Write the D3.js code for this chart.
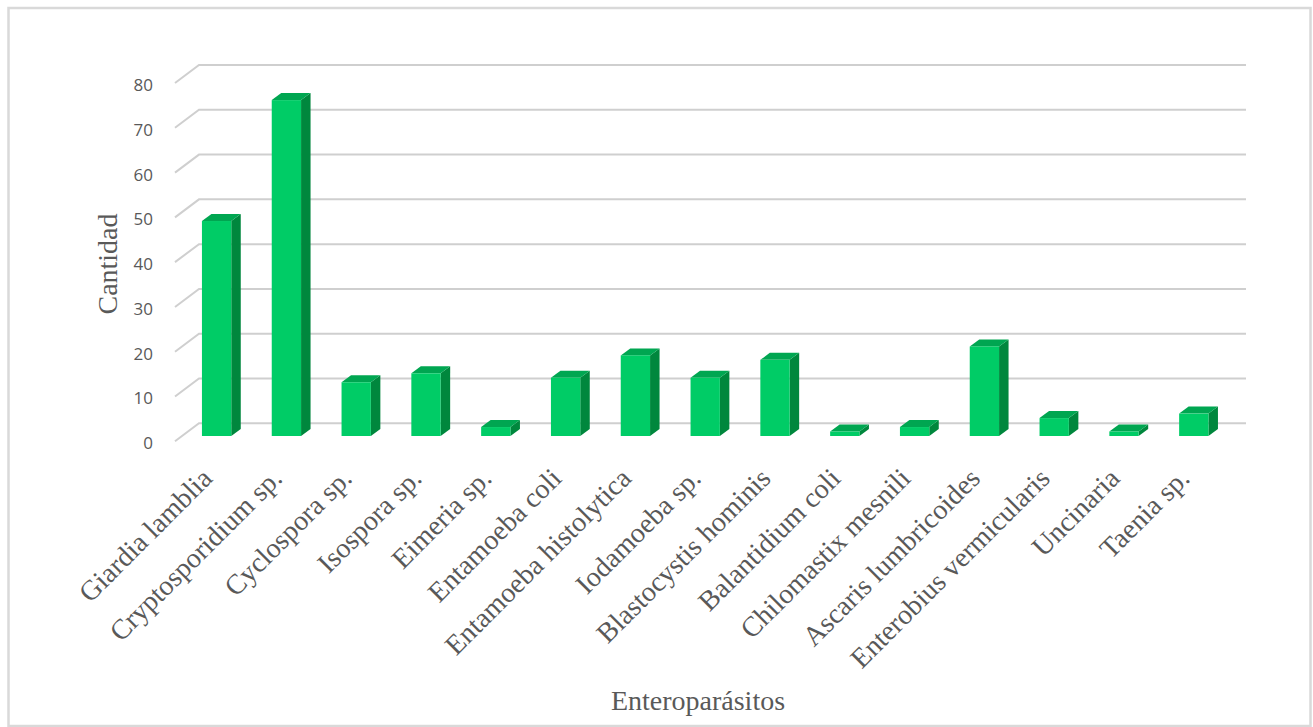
<!DOCTYPE html>
<html>
<head>
<meta charset="utf-8">
<script src="https://cdn.jsdelivr.net/npm/d3@7"></script>
<style>
  body { margin: 0; background: #fff; }
</style>
</head>
<body>
<div id="chart"></div>
<script>
var categories = ["Giardia lamblia", "Cryptosporidium sp.", "Cyclospora sp.", "Isospora sp.", "Eimeria sp.",
  "Entamoeba coli", "Entamoeba histolytica", "Iodamoeba sp.", "Blastocystis hominis", "Balantidium coli",
  "Chilomastix mesnili", "Ascaris lumbricoides", "Enterobius vermicularis", "Uncinaria", "Taenia sp."];
var values = [48, 75, 12, 14, 2, 13, 18, 13, 17, 1, 2, 20, 4, 1, 5];
var yTicks = [0, 10, 20, 30, 40, 50, 60, 70, 80];

var W = 1313, H = 727;
// back wall of the 3D plot
var wall = {left: 199, right: 1246, top: 65, bottom: 423.3};
var depthX = 24, depthY = 18;       // floor depth (back wall -> front edge)
var barOffX = 17.3, barOffY = 12.7; // front face of bars relative to back wall
var barDX = 9.5, barDY = 7;         // bar thickness in depth

var svg = d3.select("#chart")
  .append("svg")
    .attr("width", W)
    .attr("height", H);

// outer frame
svg.append("rect")
  .attr("x", 8.5).attr("y", 8)
  .attr("width", 1302).attr("height", 718)
  .attr("fill", "#fff")
  .attr("stroke", "#d9d9d9")
  .attr("stroke-width", 2.5);

var x = d3.scaleBand()
  .domain(categories)
  .range([wall.left, wall.right])
  .paddingInner(0.58)
  .paddingOuter(0.29);

var y = d3.scaleLinear()
  .domain([0, 80])
  .range([wall.bottom, wall.top]);

// gridlines on back wall + floor diagonals
var grid = svg.append("g");
grid.selectAll("path")
  .data(yTicks)
  .enter()
  .append("path")
    .attr("d", function(d) {
      return "M" + (wall.left - depthX) + "," + (y(d) + depthY) +
             "L" + wall.left + "," + y(d) +
             "L" + wall.right + "," + y(d);
    })
    .attr("fill", "none")
    .attr("stroke", "#cfcfcf")
    .attr("stroke-width", 2);

// y tick labels
svg.append("g").selectAll("text")
  .data(yTicks)
  .enter()
  .append("text")
    .attr("x", 153)
    .attr("y", function(d) { return y(d) + depthY + 2; })
    .attr("dy", "0.35em")
    .attr("text-anchor", "end")
    .style("font-family", "'Open Sans', sans-serif")
    .style("font-size", "17px")
    .style("fill", "#595959")
    .text(function(d) { return d; });

// bars
var bars = svg.append("g").selectAll("g")
  .data(values)
  .enter()
  .append("g");

function fx(i) { return x(categories[i]) - barOffX; }
function fy(v) { return y(v) + barOffY; }
var bw = x.bandwidth();

// side face
bars.append("path")
  .attr("d", function(d, i) {
    var x1 = fx(i) + bw, yt = fy(d), yb = fy(0);
    return "M" + x1 + "," + yt + "L" + (x1 + barDX) + "," + (yt - barDY) +
           "L" + (x1 + barDX) + "," + (yb - barDY) + "L" + x1 + "," + yb + "Z";
  })
  .attr("fill", "#00873d");

// top face
bars.append("path")
  .attr("d", function(d, i) {
    var x0 = fx(i), yt = fy(d);
    return "M" + x0 + "," + yt + "L" + (x0 + barDX) + "," + (yt - barDY) +
           "L" + (x0 + bw + barDX) + "," + (yt - barDY) + "L" + (x0 + bw) + "," + yt + "Z";
  })
  .attr("fill", "#00a651");

// front face
bars.append("rect")
  .attr("x", function(d, i) { return fx(i); })
  .attr("y", function(d) { return fy(d); })
  .attr("width", bw)
  .attr("height", function(d) { return fy(0) - fy(d); })
  .attr("fill", "#00cc66");

// category labels
svg.append("g").selectAll("text")
  .data(categories)
  .enter()
  .append("text")
    .attr("transform", function(d) {
      var cx = x(d) + bw / 2 - 20;
      return "translate(" + cx + ",480) rotate(-45)";
    })
    .attr("text-anchor", "end")
    .style("font-family", "'Liberation Serif', 'Times New Roman', serif")
    .style("font-size", "28px")
    .style("fill", "#595959")
    .text(function(d) { return d; });

// axis titles
svg.append("text")
  .attr("transform", "translate(117,264) rotate(-90)")
  .attr("text-anchor", "middle")
  .style("font-family", "'Liberation Serif', 'Times New Roman', serif")
  .style("font-size", "28px")
  .style("fill", "#595959")
  .text("Cantidad");

svg.append("text")
  .attr("x", 698)
  .attr("y", 710)
  .attr("text-anchor", "middle")
  .style("font-family", "'Liberation Serif', 'Times New Roman', serif")
  .style("font-size", "28px")
  .style("fill", "#595959")
  .text("Enteroparásitos");
</script>
</body>
</html>
